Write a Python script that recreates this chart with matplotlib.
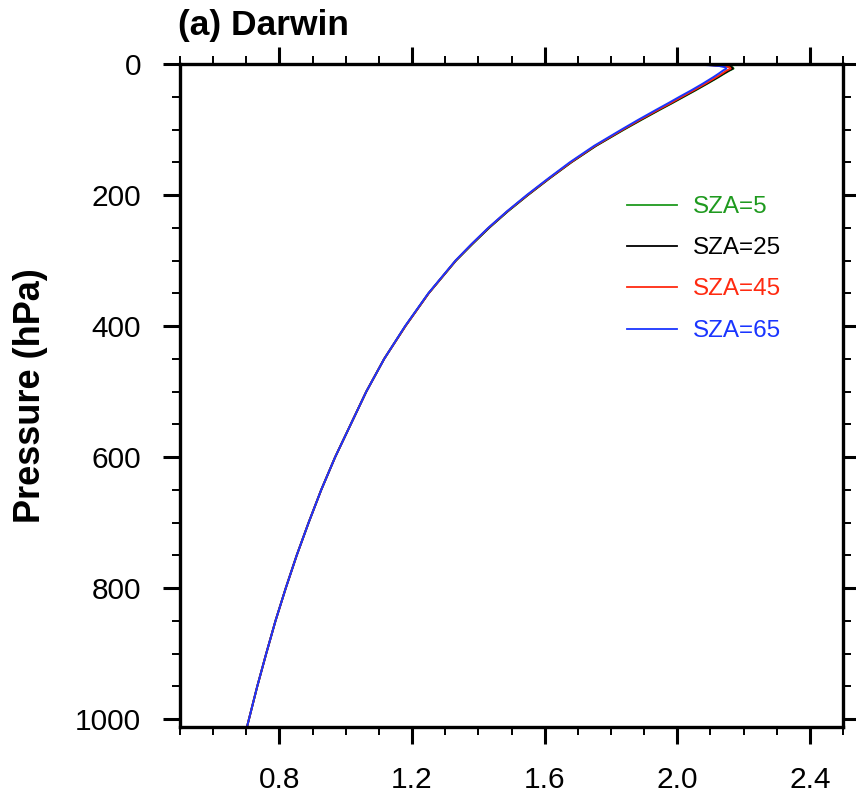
import matplotlib
matplotlib.use("Agg")
import matplotlib.pyplot as plt
from matplotlib.ticker import MultipleLocator, FixedLocator

plt.rcParams['font.family'] = ['Liberation Sans', 'DejaVu Sans']

# Pressure levels (hPa), top of atmosphere to surface
pressure = [1, 2, 3, 5, 7, 10, 15, 20, 30, 40, 50, 60, 70, 85, 100, 125,
            150, 175, 200, 225, 250, 275, 300, 350, 400, 450, 500, 550,
            600, 650, 700, 750, 800, 850, 900, 950, 1000, 1012]

sza_5 = [2.082, 2.117, 2.147, 2.167, 2.170, 2.158, 2.141, 2.125, 2.091,
         2.056, 2.020, 1.984, 1.947, 1.893, 1.840, 1.755, 1.681, 1.614,
         1.550, 1.489, 1.433, 1.382, 1.333, 1.250, 1.180, 1.116, 1.062,
         1.015, 0.968, 0.926, 0.888, 0.852, 0.819, 0.788, 0.760, 0.733,
         0.708, 0.702]
sza_25 = [2.080, 2.115, 2.145, 2.165, 2.168, 2.156, 2.139, 2.123, 2.089,
          2.054, 2.018, 1.982, 1.945, 1.891, 1.838, 1.754, 1.680, 1.613,
          1.549, 1.488, 1.432, 1.381, 1.332, 1.250, 1.180, 1.116, 1.062,
          1.015, 0.968, 0.926, 0.888, 0.852, 0.819, 0.788, 0.760, 0.733,
          0.708, 0.702]
sza_45 = [2.076, 2.109, 2.138, 2.158, 2.161, 2.149, 2.134, 2.118, 2.085,
          2.050, 2.014, 1.979, 1.942, 1.888, 1.836, 1.752, 1.679, 1.612,
          1.548, 1.487, 1.431, 1.380, 1.332, 1.250, 1.180, 1.116, 1.062,
          1.015, 0.968, 0.926, 0.888, 0.852, 0.819, 0.788, 0.760, 0.733,
          0.708, 0.702]
sza_65 = [2.068, 2.098, 2.126, 2.145, 2.148, 2.138, 2.124, 2.109, 2.077,
          2.043, 2.007, 1.972, 1.936, 1.883, 1.832, 1.749, 1.676, 1.610,
          1.546, 1.486, 1.430, 1.379, 1.331, 1.249, 1.179, 1.116, 1.062,
          1.015, 0.968, 0.926, 0.888, 0.852, 0.819, 0.788, 0.760, 0.733,
          0.708, 0.702]

labels = ['SZA=5', 'SZA=25', 'SZA=45', 'SZA=65']
colors = ['#1f9a1f', '#000000', '#ff2a10', '#1a35ff']
series = [sza_5, sza_25, sza_45, sza_65]

x_major = [0.8, 1.2, 1.6, 2.0, 2.4]
x_labels = ['0.8', '1.2', '1.6', '2.0', '2.4']
y_major = [0, 200, 400, 600, 800, 1000]
y_labels = ['0', '200', '400', '600', '800', '1000']

fig = plt.figure(figsize=(8.56, 8.01), dpi=100)
ax = fig.add_axes([0.2103, 0.0924, 0.7745, 0.8277])

for vals, col in zip(series, colors):
    ax.plot(vals, pressure, color=col, lw=1.4, solid_joinstyle='round')

ax.set_xlim(0.5, 2.5)
ax.set_ylim(1012, 0)

ax.xaxis.set_major_locator(FixedLocator(x_major))
ax.set_xticklabels(x_labels)
ax.xaxis.set_minor_locator(MultipleLocator(0.1))
ax.yaxis.set_major_locator(FixedLocator(y_major))
ax.set_yticklabels(y_labels)
ax.yaxis.set_minor_locator(MultipleLocator(50))

for s in ax.spines.values():
    s.set_linewidth(2.4)

ax.tick_params(which='both', direction='out', top=True, right=True,
               labeltop=False, labelright=False)
ax.tick_params(which='major', length=12, width=2.2)
ax.tick_params(which='minor', length=6, width=1.4)
ax.tick_params(axis='x', which='major', labelsize=21.5, pad=16)
ax.tick_params(axis='y', which='major', labelsize=21.5, pad=16)

ax.set_ylabel('Pressure (hPa)', fontsize=26, fontweight='bold', va='center')
ax.yaxis.set_label_coords(-0.225, 0.5)

fig.text(0.208, 0.9563, '(a) Darwin', fontsize=25.5, fontweight='bold',
         ha='left', va='baseline')

# Legend drawn as short line segments with coloured labels
legend_rows = [0.7873, 0.7255, 0.6637, 0.6003]
for yrow, lab, col in zip(legend_rows, labels, colors):
    ax.plot([0.674, 0.7496], [yrow, yrow], transform=ax.transAxes,
            color=col, lw=1.3)
    ax.text(0.7738, yrow - 0.012, lab, transform=ax.transAxes, color=col,
            fontsize=17.5, ha='left', va='baseline')

fig.savefig('out.png', dpi=100)
